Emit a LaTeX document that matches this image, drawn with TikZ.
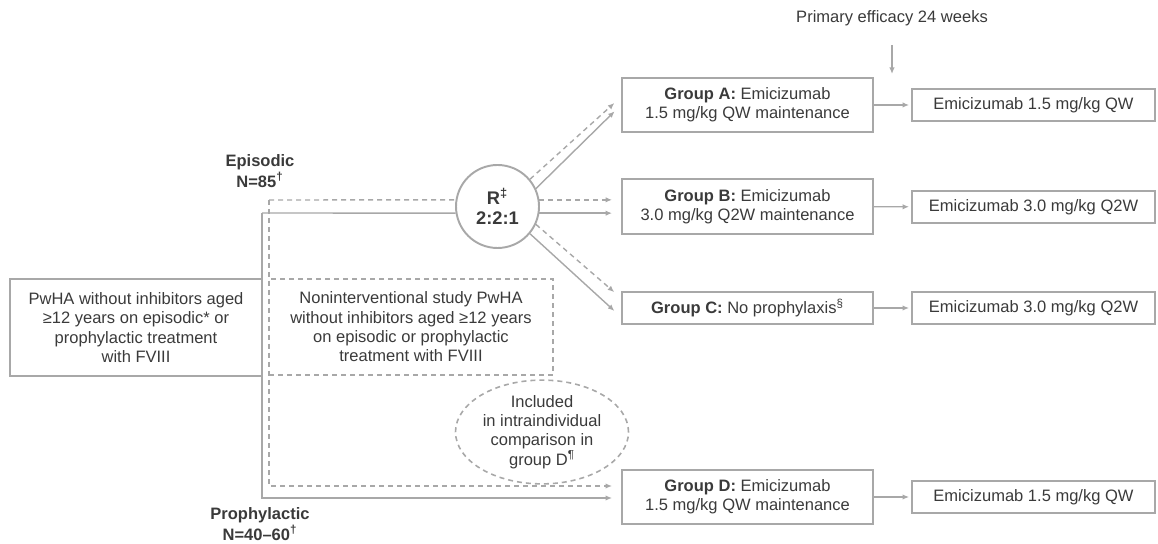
\documentclass[tikz,border=0pt]{standalone}
\usepackage{fontspec}
\setmainfont{Liberation Sans}
\usetikzlibrary{arrows.meta,positioning,shapes.geometric}
\definecolor{linegray}{HTML}{A8A8A8}
\definecolor{textgray}{HTML}{3A3A3A}

\begin{document}
\begin{tikzpicture}[x=0.2mm,y=-0.2mm,
  font=\fontsize{9.4pt}{11pt}\selectfont,
  every node/.style={text=textgray},
  box/.style={draw=linegray,line width=1.1pt,align=center,inner sep=0pt},
  dbox/.style={draw=linegray,line width=0.9pt,dash pattern=on 1mm off 0.8mm,align=center,inner sep=0pt},
  link/.style={draw=linegray,line width=0.8pt},
  dlink/.style={link,dash pattern=on 1mm off 0.8mm},
  arr/.style={-{Latex[length=1.3mm,width=1.1mm]},shorten >=#1},
  arr/.default=1.8mm,
  lab/.style={align=center,font=\fontsize{9.4pt}{10pt}\selectfont\bfseries}]
  \useasboundingbox (0,0) rectangle (1158,544);

  % population and observational lead-in
  \node[box,minimum width=50.4mm,minimum height=19.4mm] (pwha) at (136,327.5)
    {PwHA without inhibitors aged\\ ≥12 years on episodic* or\\ prophylactic treatment\\ with FVIII};
  \node[dbox,minimum width=56.8mm,minimum height=19.2mm] (nis) at (411,327)
    {Noninterventional study PwHA\\ without inhibitors aged ≥12 years\\ on episodic or prophylactic\\ treatment with FVIII};
  \node[ellipse,dbox,minimum width=34.6mm,minimum height=16.6mm] (incl) at (542,432)
    {Included\\ in intraindividual\\ comparison in\\ group D\textsuperscript{¶}};

  \node[lab] (epilab) at (260,171) {Episodic\\ N=85\textsuperscript{†}};
  \node[lab] (prolab) at (260,524) {Prophylactic\\ N=40–60\textsuperscript{†}};

  % randomisation
  \node[circle,draw=linegray,line width=1.1pt,minimum size=16.6mm,inner sep=0pt,align=center,
    font=\fontsize{10.4pt}{11.5pt}\selectfont\bfseries] (rand) at (497.5,206.5) {R\textsuperscript{‡}\\ 2:2:1};

  % study arms
  \node[box,minimum width=50.2mm,minimum height=10.8mm] (grpa) at (747.5,105)
    {\textbf{Group A:} Emicizumab\\ 1.5 mg/kg QW maintenance};
  \node[box,minimum width=50.2mm,minimum height=11mm] (grpb) at (747.5,206.5)
    {\textbf{Group B:} Emicizumab\\ 3.0 mg/kg Q2W maintenance};
  \node[box,minimum width=50.2mm,minimum height=6.4mm] (grpc) at (747.5,308)
    {\textbf{Group C:} No prophylaxis\textsuperscript{§}};
  \node[box,minimum width=50.2mm,minimum height=10.8mm] (grpd) at (747.5,497)
    {\textbf{Group D:} Emicizumab\\ 1.5 mg/kg QW maintenance};

  % continuation
  \node[box,minimum width=48.6mm,minimum height=6.4mm] (conta) at (1033.5,105) {Emicizumab 1.5 mg/kg QW};
  \node[box,minimum width=48.6mm,minimum height=6.4mm] (contb) at (1033.5,207) {Emicizumab 3.0 mg/kg Q2W};
  \node[box,minimum width=48.6mm,minimum height=6.4mm] (contc) at (1033.5,308) {Emicizumab 3.0 mg/kg Q2W};
  \node[box,minimum width=48.6mm,minimum height=6.4mm] (contd) at (1033.5,497) {Emicizumab 1.5 mg/kg QW};

  \node (prim) at (892,18) {Primary efficacy 24 weeks};
  \coordinate (primend) at (892,74);
  \draw[link,arr=0mm,shorten <=2.6mm] (prim) -- (primend);

  % dashed (noninterventional) and solid (direct) entry paths
  \coordinate (epi) at (269,200);
  \coordinate (pro) at (269,486);
  \coordinate (top) at (262,213);
  \coordinate (bot) at (262,498);
  \draw[dlink] (epi) -- (rand.171);
  \draw[dlink,arr] (epi) -- (pro) -- (grpd.west |- pro);
  \draw[link] (top) -- (rand.189);
  \draw[link,arr] (top) -- (bot) -- (grpd.west |- bot);

  % randomised arms
  \draw[dlink,arr] (rand.40) -- ([yshift=1.6mm]grpa.west);
  \draw[link,arr] (rand.25) -- (grpa.west);
  \draw[dlink,arr] (rand.9) -- (rand.9 -| grpb.west);
  \draw[link,arr] (rand.-9) -- (rand.-9 -| grpb.west);
  \draw[dlink,arr] (rand.-25) -- ([yshift=2mm]grpc.west);
  \draw[link,arr] (rand.-40) -- ([yshift=-1.8mm]grpc.west);

  \foreach \g/\c in {grpa/conta,grpb/contb,grpc/contc,grpd/contd}
    \draw[link,arr=0.4mm] (\g) -- (\c);
\end{tikzpicture}
\end{document}
